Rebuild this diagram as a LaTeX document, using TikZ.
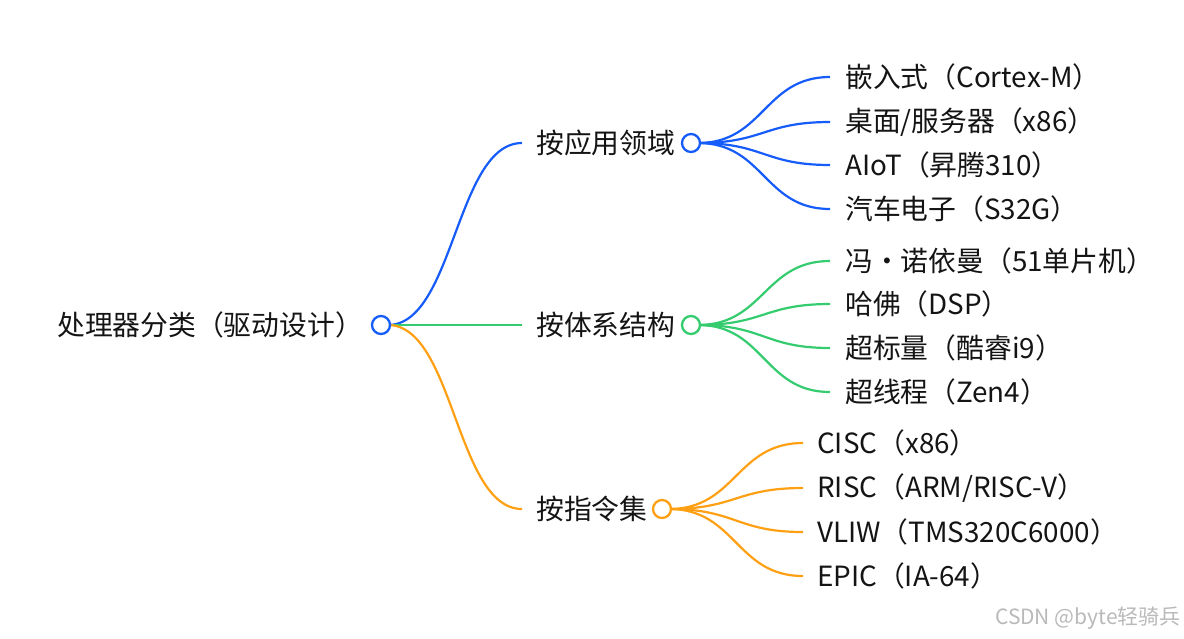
\documentclass[tikz,border=0pt]{standalone}
\usepackage{fontspec}
\setmainfont{Noto Sans CJK SC}
\definecolor{cblue}{RGB}{22,92,250}
\definecolor{cgreen}{RGB}{52,204,110}
\definecolor{corange}{RGB}{255,160,20}
\definecolor{cmark}{RGB}{185,185,185}
\begin{document}
\begin{tikzpicture}[x=1pt,y=-1pt,
  lbl/.style={anchor=west,inner sep=0pt,font=\fontsize{27.8}{32}\selectfont,text=black!92},
  dot/.style={circle,draw,line width=2.3pt,fill=white,minimum size=18pt,inner sep=0pt},
  edge/.style={line width=2.2pt}]
\useasboundingbox (0,0) rectangle (1184,638);
% root
\node[lbl] (root) at (57,325) {处理器分类（驱动设计）};
% branches
\node[lbl] (b1) at (536,143) {按应用领域};
\node[lbl] (b2) at (536,325) {按体系结构};
\node[lbl] (b3) at (536,509) {按指令集};
\coordinate (e1) at (522,143);
\coordinate (e2) at (522,325);
\coordinate (e3) at (522,509);
% leaves
\node[lbl] (l11) at (845,77) {嵌入式（Cortex-M）};
\node[lbl] (l12) at (845,122) {桌面/服务器（x86）};
\node[lbl] (l13) at (845,165) {AIoT（昇腾310）};
\node[lbl] (l14) at (845,209) {汽车电子（S32G）};
\node[lbl] (l21) at (845,261) {冯・诺依曼（51单片机）};
\node[lbl] (l22) at (845,304) {哈佛（DSP）};
\node[lbl] (l23) at (845,348) {超标量（酷睿i9）};
\node[lbl] (l24) at (845,392) {超线程（Zen4）};
\node[lbl] (l31) at (817,443) {CISC（x86）};
\node[lbl] (l32) at (817,488) {RISC（ARM/RISC-V）};
\node[lbl] (l33) at (817,532) {VLIW（TMS320C6000）};
\node[lbl] (l34) at (817,576) {EPIC（IA-64）};
\foreach \i/\y in {1/77,2/122,3/165,4/209} \coordinate (f1\i) at (830,\y);
\foreach \i/\y in {1/261,2/304,3/348,4/392} \coordinate (f2\i) at (830,\y);
\foreach \i/\y in {1/443,2/488,3/532,4/576} \coordinate (f3\i) at (803,\y);
% root connectors
\coordinate (rs) at (388,325);
\draw[edge,cblue] (rs) .. controls +(66,0) and +(-66,0) .. (e1);
\draw[edge,cgreen] (rs) -- (e2);
\draw[edge,corange] (rs) .. controls +(66,0) and +(-66,0) .. (e3);
% branch dots coordinates
\coordinate (s1) at (698,143);
\coordinate (s2) at (698,325);
\coordinate (s3) at (669,509);
\foreach \i in {1,2,3,4}{
  \draw[edge,cblue] (s1) .. controls +(66,0) and +(-66,0) .. (f1\i);
  \draw[edge,cgreen] (s2) .. controls +(66,0) and +(-66,0) .. (f2\i);
  \draw[edge,corange] (s3) .. controls +(67,0) and +(-67,0) .. (f3\i);
}
\node[dot,draw=cblue] (r) at (381,325) {};
\node[dot,draw=cblue] (d1) at (691,143) {};
\node[dot,draw=cgreen] (d2) at (691,325) {};
\node[dot,draw=corange] (d3) at (662,509) {};
\node[anchor=east,inner sep=0pt,text=cmark,font=\fontsize{21}{24}\selectfont] (wm) at (1181,618) {CSDN @byte轻骑兵};
\end{tikzpicture}
\end{document}
